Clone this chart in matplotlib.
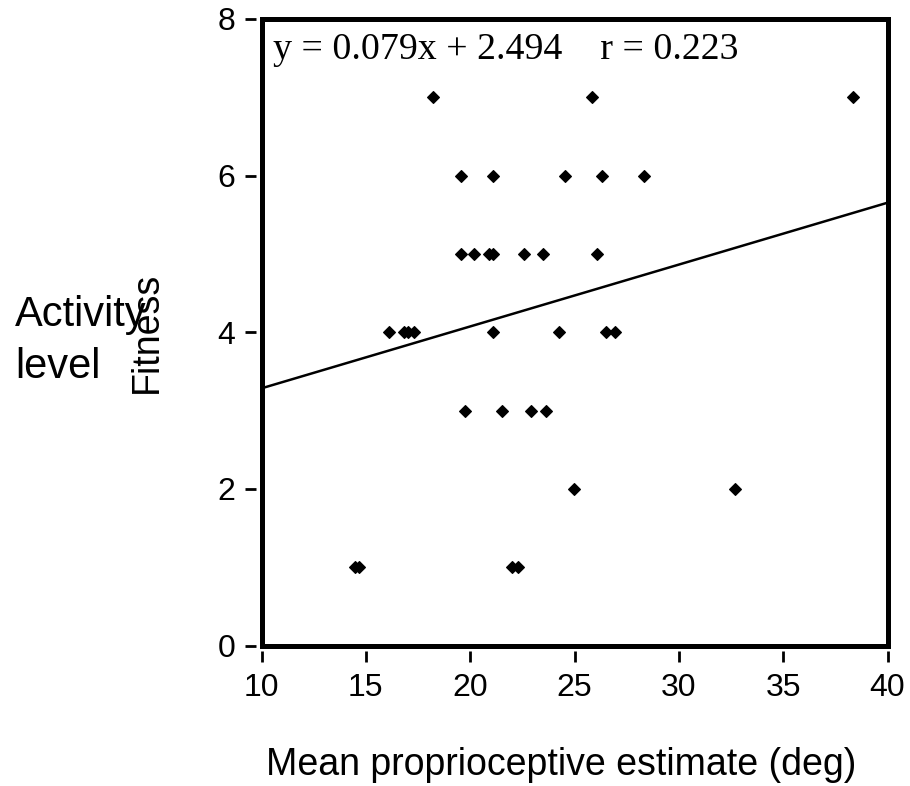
import matplotlib
matplotlib.use("Agg")
from matplotlib import pyplot as plt
from matplotlib.patches import Rectangle
import numpy as np

plt.rcParams['font.family'] = ['Liberation Sans', 'DejaVu Sans']

# mean proprioceptive estimate (deg) and activity level for each subject
estimate = [18.20, 25.85, 38.36,
            19.56, 21.08, 24.53, 26.33, 28.33,
            19.56, 20.18, 20.92, 21.11, 22.58, 23.49, 26.06,
            16.12, 16.84, 17.03, 17.32, 21.08, 24.26, 26.49, 26.94,
            19.75, 21.54, 22.90, 23.63,
            24.99, 32.68,
            14.50, 14.68, 21.99, 22.28]
activity = [7, 7, 7,
            6, 6, 6, 6, 6,
            5, 5, 5, 5, 5, 5, 5,
            4, 4, 4, 4, 4, 4, 4, 4,
            3, 3, 3, 3,
            2, 2,
            1, 1, 1, 1]

# fitted line
slope = 0.079
intercept = 2.494
r_value = 0.223

x_ticks = [10, 15, 20, 25, 30, 35, 40]
y_ticks = [0, 2, 4, 6, 8]

fig = plt.figure(figsize=(9.1, 7.86), dpi=100)
ax = fig.add_axes([261.5 / 910, 1 - 645.5 / 786, 626 / 910, 626.5 / 786])

ax.plot(estimate, activity, linestyle='none', marker='D', ms=6.3,
        mfc='black', mec='black', mew=0.8, zorder=4)

xs = np.array([10, 40])
ax.plot(xs, slope * xs + intercept, color='black', lw=1.8, zorder=3)

ax.set_xlim(10, 40)
ax.set_ylim(0, 8)
ax.set_xticks(x_ticks)
ax.set_yticks(y_ticks)

# frame drawn separately so the ticks sit a little away from it
for side in ['left', 'right', 'top', 'bottom']:
    ax.spines[side].set_visible(False)
ax.spines['left'].set_position(('outward', 4))
ax.spines['bottom'].set_position(('outward', 4))
ax.add_patch(Rectangle((0, 0), 1, 1, transform=ax.transAxes, fill=False,
                       lw=3.6, edgecolor='black', clip_on=False, zorder=5))

ax.tick_params(direction='out', length=8, width=2, labelsize=23, color='black')
ax.tick_params(axis='x', pad=8)
ax.tick_params(axis='y', pad=7)

ax.text(0.018, 0.936, 'y = %.3fx + %.3f    r = %.3f' % (slope, intercept, r_value),
        transform=ax.transAxes, va='baseline', ha='left',
        fontsize=27.3, family='Liberation Serif')

ax.set_xlabel('Mean proprioceptive estimate (deg)', fontsize=27)
ax.xaxis.set_label_coords(0.479, -0.162)
ax.set_ylabel('Fitness', fontsize=27)
ax.yaxis.set_label_coords(-0.154, 0.50)

fig.text(15 / 910, 1 - 378 / 786, 'Activity\nlevel', fontsize=30,
         va='baseline', ha='left', linespacing=1.38)

fig.savefig('out.png', dpi=100)
